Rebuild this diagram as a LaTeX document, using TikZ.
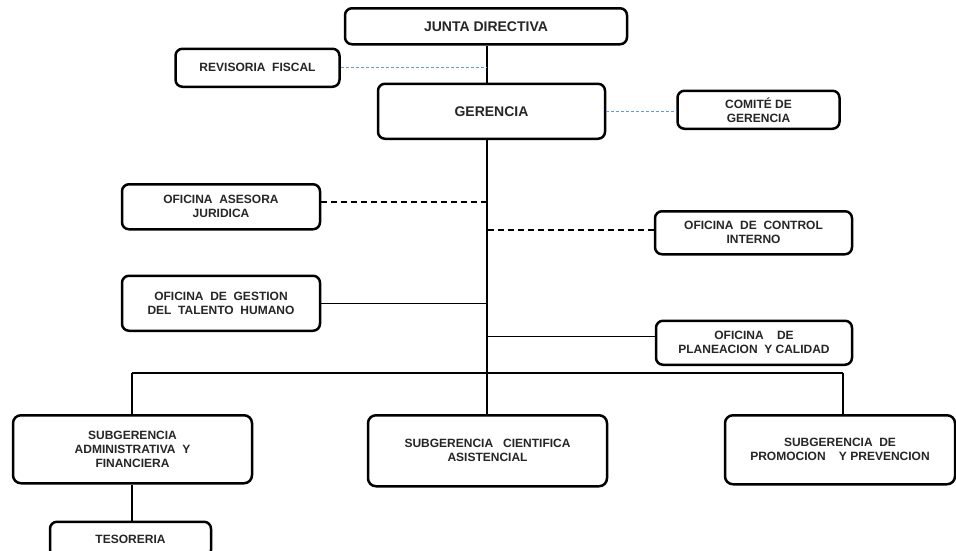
\documentclass[tikz,border=0pt]{standalone}
\usepackage{fontspec}
\setmainfont{Liberation Sans}
\definecolor{lineblue}{RGB}{100,155,215}
\begin{document}
\begin{tikzpicture}[x=1pt,y=-1pt]

\tikzstyle{topnode}=[rectangle,inner sep=0mm,rounded corners=7pt,line width=2.5pt,draw,fill=white,text=black!85,align=center,font=\fontsize{14}{16}\selectfont\bfseries]
\tikzstyle{ofnode}=[rectangle,inner sep=0mm,rounded corners=7pt,line width=2.5pt,draw,fill=white,text=black!85,align=center,font=\fontsize{12}{14}\selectfont\bfseries]
\tikzstyle{sgnode}=[rectangle,inner sep=0mm,rounded corners=8pt,line width=2.5pt,draw,fill=white,text=black!85,align=center,font=\fontsize{12}{14}\selectfont\bfseries,minimum height=69pt]
\tikzstyle{solidline}=[line width=1.4pt]
\tikzstyle{blueline}=[line width=0.9pt,dash pattern=on 3pt off 2pt,color=lineblue]
\tikzstyle{darkline}=[line width=1.8pt,dash pattern=on 6pt off 4pt]

\useasboundingbox (0,0) rectangle (956,550);

\begin{scope}[]

\node [anchor=north,topnode,minimum width=282pt,minimum height=36pt] (jd) at (486,7){JUNTA DIRECTIVA};
\node [anchor=north east,ofnode,minimum width=164pt,minimum height=38pt] (rf) at ([xshift=-3pt,yshift=-2pt]jd.south west){REVISORIA\ \ FISCAL};
\node [anchor=north,topnode,minimum width=227pt,minimum height=55pt] (ger) at ([xshift=5.5pt,yshift=-37pt]jd.south){GERENCIA};
\node [anchor=west,ofnode,minimum width=162pt,minimum height=38pt] (cg) at ([xshift=70pt,yshift=1.5pt]ger.east){COMITÉ\ DE\\GERENCIA};
\node [anchor=north west,ofnode,minimum width=198pt,minimum height=45pt] (oaj) at ([xshift=-256pt,yshift=-43pt]ger.south west){OFICINA\ \ ASESORA\\JURIDICA};
\node [anchor=north east,ofnode,minimum width=197pt,minimum height=43pt] (oci) at ([xshift=247pt,yshift=-70pt]ger.south east){OFICINA\ \ DE\ \ CONTROL\\INTERNO};
\node [anchor=north west,ofnode,minimum width=198pt,minimum height=55pt] (otc) at ([xshift=0pt,yshift=-44pt]oaj.south west){OFICINA\ \ DE\ \ GESTION\\DEL\ \ TALENTO\ \ HUMANO};
\node [anchor=north west,ofnode,minimum width=196pt,minimum height=44pt] (opc) at ([xshift=1pt,yshift=-64pt]oci.south west){OFICINA\ \ \ \ DE\\PLANEACION\ \ Y CALIDAD};
\node [anchor=north,sgnode,minimum width=239pt,minimum height=71pt] (sc) at ([xshift=-4pt,yshift=-274pt]ger.south){SUBGERENCIA\ \ \ CIENTIFICA\\ASISTENCIAL};
\node [anchor=north west,sgnode,minimum width=239pt,minimum height=68pt] (sa) at ([xshift=-355pt,yshift=0pt]sc.north west){SUBGERENCIA\\ADMINISTRATIVA\ \ Y\\FINANCIERA};
\node [anchor=north east,sgnode,minimum width=230pt] (sp) at ([xshift=348pt,yshift=0pt]sc.north east){SUBGERENCIA\ \ DE\\PROMOCION\ \ \ \ Y PREVENCION};
\node [anchor=north west,ofnode,minimum width=161pt,minimum height=35pt] (tes) at ([xshift=37pt,yshift=-36pt]sa.south west){TESORERIA};

\coordinate (spine) at (487,0);
\coordinate (bl) at (132,373);
\coordinate (br) at (843,373);

\draw[solidline] (spine |- jd.south)--(spine |- ger.north);
\draw[solidline] (spine |- ger.south)--(spine |- sc.north);
\draw[solidline] (bl)--(br);
\draw[solidline] (bl)--(bl |- sa.north);
\draw[solidline] (br)--(br |- sp.north);
\draw[solidline] (bl |- sa.south)--(bl |- tes.north);

\draw[blueline] (rf.east)--(rf.east -| spine);
\draw[blueline] (ger.east)--(ger.east -| cg.west);
\draw[darkline] ([yshift=5pt]oaj.east)--([yshift=5pt]oaj.east -| spine);
\draw[darkline] ([yshift=3pt]oci.west)--([yshift=3pt]oci.west -| spine);
\draw[solidline] (otc.east)--(otc.east -| spine);
\draw[solidline] ([yshift=6pt]opc.west)--([yshift=6pt]opc.west -| spine);

\end{scope}
\end{tikzpicture}
\end{document}
